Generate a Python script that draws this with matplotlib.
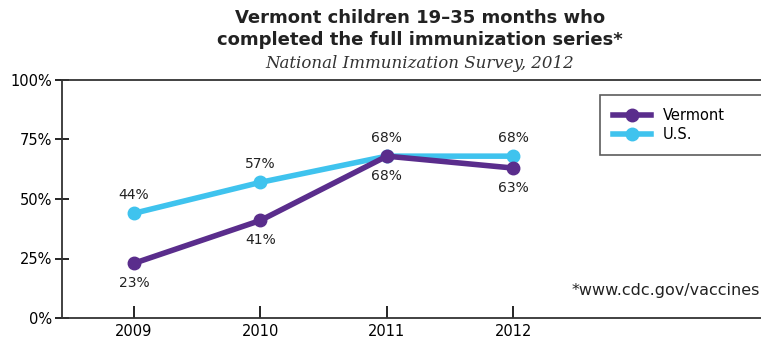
import matplotlib.pyplot as plt
from matplotlib.ticker import PercentFormatter

years = [2009, 2010, 2011, 2012]
vermont = [23, 41, 68, 63]
us = [44, 57, 68, 68]

purple = '#5a2d8c'
blue = '#3fc3ee'

fig = plt.figure(figsize=(7.61, 3.41), dpi=100)
ax = fig.add_axes([62/761, 1 - 318/341, 1 - 62/761 + 0.01, (318 - 80)/341])

ax.plot(years, vermont, '-o', color=purple, lw=4, ms=9, label='Vermont', zorder=3)
ax.plot(years, us, '-o', color=blue, lw=4, ms=9, label='U.S.', zorder=2)

# value labels: Vermont below, U.S. above
for x, v in zip(years, vermont):
    ax.annotate('%d%%' % v, (x, v), xytext=(0, -9), textcoords='offset points',
                ha='center', va='top', fontsize=10, color='#222222')
for x, v in zip(years, us):
    ax.annotate('%d%%' % v, (x, v), xytext=(0, 8), textcoords='offset points',
                ha='center', va='bottom', fontsize=10, color='#222222')

ax.set_xlim(2008.43, 2013.94 + 0.08)
ax.set_ylim(0, 100)
ax.set_xticks(years)
ax.set_yticks([0, 25, 50, 75, 100])
ax.yaxis.set_major_formatter(PercentFormatter(decimals=0))
ax.tick_params(axis='y', direction='inout', length=10, width=1.2, labelsize=10.5, pad=2)
ax.tick_params(axis='x', direction='in', length=9, width=1.2, labelsize=10.5, pad=4)
for s in ['left', 'top', 'bottom']:
    ax.spines[s].set_linewidth(1.3)
    ax.spines[s].set_color('#333333')
ax.spines['right'].set_visible(False)

leg = ax.legend(loc='upper left', bbox_to_anchor=(0.761, 0.664, 0.26, 0.273), mode='expand',
                frameon=True, fancybox=False, fontsize=10.5, handlelength=2.6,
                borderpad=0.9, labelspacing=0.25, borderaxespad=0)
leg.get_frame().set_edgecolor('#333333')
leg.get_frame().set_linewidth(1.2)

fig.text(0.999, 1 - 290/341, '*www.cdc.gov/vaccines', ha='right', va='center',
         fontsize=11.5, color='#222222')

fig.text(420/761, 1 - 18/341, 'Vermont children 19\u201335 months who', ha='center', va='center',
         fontsize=13, fontweight='bold', color='#222222')
fig.text(420/761, 1 - 40/341, 'completed the full immunization series*', ha='center', va='center',
         fontsize=13, fontweight='bold', color='#222222')
fig.text(420/761, 1 - 63/341, 'National Immunization Survey, 2012', ha='center', va='center',
         fontsize=12, style='italic', family='DejaVu Serif', color='#333333')

fig.savefig('out.png', dpi=100)
